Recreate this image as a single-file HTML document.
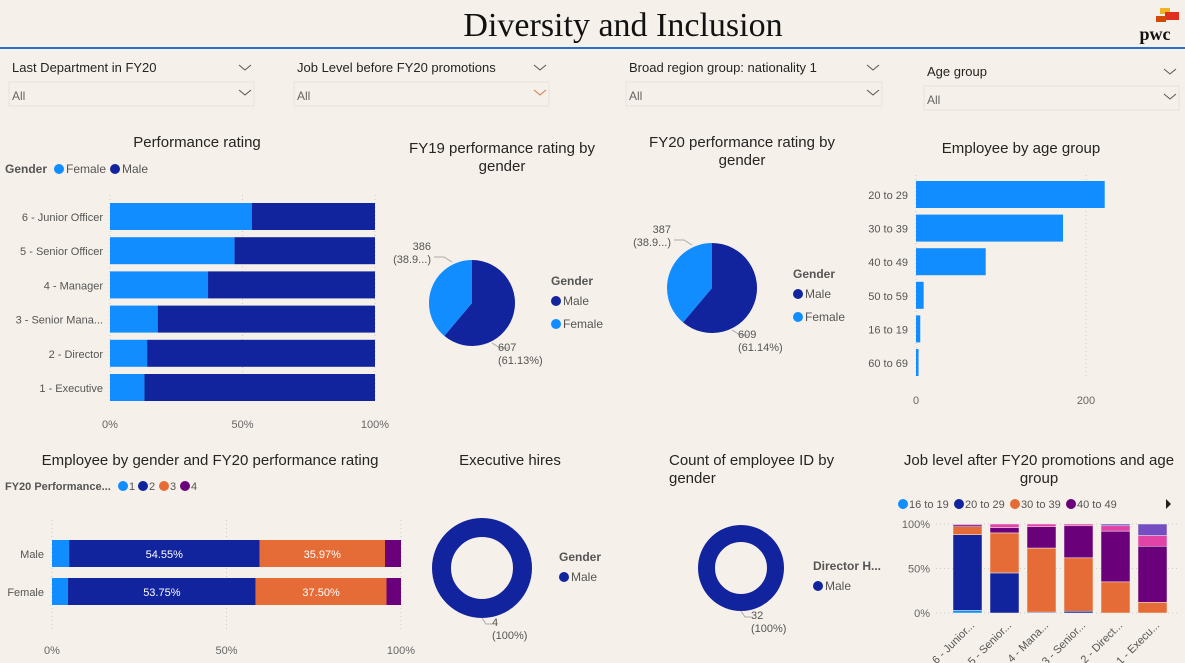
<!DOCTYPE html>
<html><head><meta charset="utf-8">
<style>
body{margin:0;width:1185px;height:663px;overflow:hidden;background:#f5f0e9;font-family:"Liberation Sans",sans-serif;}
svg{position:absolute;left:0;top:0;}
.t{font-family:"Liberation Sans",sans-serif;}
</style></head>
<body>
<svg id="s" width="1185" height="663">
<text x="623" y="36" text-anchor="middle" font-family="Liberation Serif,serif" font-size="34" fill="#111">Diversity and Inclusion</text>
<g>
<rect x="1160" y="8" width="10" height="6" fill="#f0b323"/><rect x="1165" y="12" width="14" height="8" fill="#e0301e"/><rect x="1156" y="16" width="10" height="6" fill="#d04a02"/>
<text x="1155" y="40" text-anchor="middle" font-family="Liberation Serif,serif" font-weight="bold" font-size="18" fill="#111">pwc</text></g>
<line x1="0" y1="48" x2="1185" y2="48" stroke="#2a6fc9" stroke-width="2"/>
<g id="slicers"></g>
<g id="c1"></g><g id="c2"></g><g id="c3"></g><g id="c4"></g><g id="c5"></g><g id="c6"></g><g id="c7"></g><g id="c8"></g>
</svg>
<script>
// Performance rating (female share %)
const perfCats=["6 - Junior Officer","5 - Senior Officer","4 - Manager","3 - Senior Mana...","2 - Director","1 - Executive"];
const perfFemale=[53.5,47,37,18,14,13];
// Age group
const ageCats=["20 to 29","30 to 39","40 to 49","50 to 59","16 to 19","60 to 69"];
const ageVals=[222,173,82,9,5,3];
const ageTicks=[0,200];
// FY19 / FY20 pies
const fy19Vals=[607,386]; // male, female
const fy20Vals=[609,387];
// FY20 rating by gender (stacked %)
const ratingCats=["Male","Female"];
const rating1=[4.9,4.6],rating2=[54.55,53.75],rating3=[35.97,37.50],rating4=[4.58,4.15];
// Job level by age (stacked %)
const jobCats=["6 - Junior...","5 - Senior...","4 - Mana...","3 - Senior...","2 - Direct...","1 - Execu..."];
const j16=[3,0,0,0,0,0],j20=[85,45,1,2,0,0],j30=[9,45,72,60,35,12],j40=[2,6,24,36,57,63],j50=[1,4,3,2,6,12],j60=[0,0,0,0,2,13];
const pctTicks=["0%","50%","100%"];

const NS="http://www.w3.org/2000/svg";
const LB="#118dff",DB="#12239e",OR="#e66c37",PU="#6b007b",PK="#e044a7",LV="#744ec2";
function el(p,tag,a,txt){const e=document.createElementNS(NS,tag);for(const k in a)e.setAttribute(k,a[k]);if(txt!==undefined)e.textContent=txt;p.appendChild(e);return e;}
function tx(p,x,y,s,o){o=o||{};const e=el(p,"text",Object.assign({x:x,y:y,"font-size":o.fs||12,fill:o.fill||"#555","text-anchor":o.a||"start","font-weight":o.w||"normal"}),s);return e;}
const S=document.getElementById("s");

// slicers
const sl=document.getElementById("slicers");
[[12,"Last Department in FY20",245,75],[297,"Job Level before FY20 promotions",540,75],[629,"Broad region group: nationality 1",873,75],[927,"Age group",1170,79]].forEach((d,i)=>{
 const g=el(sl,"g",{});
 
 
 tx(g,d[0],d[3]-3,d[1],{fs:13,fill:"#252423"});
 el(g,"path",{d:`M${d[2]-6} ${d[3]-10} l6 5 l6 -5`,stroke:"#555",fill:"none"});
 el(g,"rect",{x:d[0]-3,y:d[3]+7,width:d[2]-d[0]+12,height:24,fill:"none",stroke:"#e8e2da"});
 tx(g,d[0],d[3]+25,"All",{fs:12,fill:"#666"});
 el(g,"path",{d:`M${d[2]-6} ${d[3]+15} l6 5 l6 -5`,stroke:i==1?"#d07a50":"#555",fill:"none"});
});

function dot(p,x,y,c){el(p,"circle",{cx:x,cy:y,r:5,fill:c});}
// Chart 1 performance rating
(function(){const g=document.getElementById("c1");
tx(g,197,147,"Performance rating",{fs:15,fill:"#252423",a:"middle"});
tx(g,5,173,"Gender",{fs:12,w:"bold",fill:"#555"});dot(g,59,169,LB);tx(g,66,173,"Female",{fs:12});dot(g,115,169,DB);tx(g,122,173,"Male",{fs:12});
const x0=110,x1=375,xs=v=>x0+(x1-x0)*v/100;
pctTicks.forEach((t,i)=>{const x=xs(i*50);el(g,"line",{x1:x,x2:x,y1:195,y2:400,stroke:"#ccc","stroke-dasharray":"1,3"});tx(g,x,428,t,{fs:11,a:"middle",fill:"#666"});});
perfCats.forEach((c,i)=>{const y=216+i*34.2-13;tx(g,103,y+18,c,{fs:11,a:"end",fill:"#555"});
const r1=el(g,"rect",{x:xs(0),y:y,width:xs(perfFemale[i])-x0,height:27,fill:LB});
const r2=el(g,"rect",{x:xs(perfFemale[i]),y:y,width:xs(100)-xs(perfFemale[i]),height:27,fill:DB});});
})();

function pie(g,cx,cy,r,vals,l1,l2,ly){const tot=vals[0]+vals[1];let a=0;
 vals.forEach((v,i)=>{const a2=a+v/tot*2*Math.PI;const p=(t)=>[cx+r*Math.sin(t),cy-r*Math.cos(t)];const s=p(a),e=p(a2);
 const pa=el(g,"path",{d:`M${cx} ${cy} L${s[0]} ${s[1]} A${r} ${r} 0 ${a2-a>Math.PI?1:0} 1 ${e[0]} ${e[1]}Z`,fill:i?LB:DB});
 a=a2;});
 const fp=(vals[1]/tot*100).toFixed(1),mp=(vals[0]/tot*100).toFixed(2);
 el(g,"path",{d:`M${cx-20} ${cy-r+2} l-8 -5 h-10`,stroke:"#aaa",fill:"none"});
 tx(g,cx-41,cy-r-10,String(vals[1]),{fs:11,a:"end"});tx(g,cx-41,cy-r+3,"("+fp+"...)",{fs:11,a:"end"});
 el(g,"path",{d:`M${cx+20} ${cy+r-3} l8 5 h8`,stroke:"#aaa",fill:"none"});
 tx(g,cx+26,cy+r+5,String(vals[0]),{fs:11});tx(g,cx+26,cy+r+18,"("+mp+"%)",{fs:11});
 tx(g,l1,ly,"Gender",{fs:12,w:"bold",fill:"#555"});dot(g,l1+5,ly+15,DB);tx(g,l1+12,ly+19,"Male",{fs:12});dot(g,l1+5,ly+38,LB);tx(g,l1+12,ly+42,"Female",{fs:12});}
(function(){const g=document.getElementById("c2");
tx(g,502,153,"FY19 performance rating by",{fs:15,fill:"#252423",a:"middle"});tx(g,502,171,"gender",{fs:15,fill:"#252423",a:"middle"});
pie(g,472,303,43,fy19Vals,0,0,0);})();
// fix legend positions of pie1
(function(){const g=document.getElementById("c2");const ts=g.querySelectorAll("text");})();
(function(){const g=document.getElementById("c3");
tx(g,742,147,"FY20 performance rating by",{fs:15,fill:"#252423",a:"middle"});tx(g,742,165,"gender",{fs:15,fill:"#252423",a:"middle"});
pie(g,712,288,45,fy20Vals,0,0,0);})();
// move generic pie legends (placed at 0) properly
function legend(g,x,y){tx(g,x,y,"Gender",{fs:12,w:"bold",fill:"#555"});dot(g,x+5,y+16,DB);tx(g,x+12,y+20,"Male",{fs:12});dot(g,x+5,y+39,LB);tx(g,x+12,y+43,"Female",{fs:12});}
document.querySelectorAll("#c2 text, #c3 text").forEach(t=>{if(t.getAttribute("x")<15)t.remove();});
document.querySelectorAll("#c2 circle, #c3 circle").forEach(t=>t.remove());
legend(document.getElementById("c2"),551,285);legend(document.getElementById("c3"),793,278);

// Age group
(function(){const g=document.getElementById("c4");
tx(g,1021,153,"Employee by age group",{fs:15,fill:"#252423",a:"middle"});
const x0=916,xs=v=>x0+0.85*v;
ageTicks.forEach(t=>{el(g,"line",{x1:xs(t),x2:xs(t),y1:175,y2:378,stroke:"#ccc","stroke-dasharray":"1,3"});tx(g,xs(t),404,String(t),{fs:11,a:"middle",fill:"#666"});});
ageCats.forEach((c,i)=>{const y=194+i*33.6-13;tx(g,908,y+18,c,{fs:11,a:"end"});
const r=el(g,"rect",{x:x0,y:y,width:xs(ageVals[i])-x0,height:27,fill:LB});});})();

// Rating by gender
(function(){const g=document.getElementById("c5");
tx(g,210,465,"Employee by gender and FY20 performance rating",{fs:15,fill:"#252423",a:"middle"});
tx(g,5,490,"FY20 Performance...",{fs:11,w:"bold"});
[["1",LB,123],["2",DB,143],["3",OR,164],["4",PU,185]].forEach(d=>{dot(g,d[2],486,d[1]);tx(g,d[2]+6,490,d[0],{fs:11});});
const x0=52,x1=401,xs=v=>x0+(x1-x0)*v/100;
pctTicks.forEach((t,i)=>{const x=xs(i*50);el(g,"line",{x1:x,x2:x,y1:520,y2:630,stroke:"#ccc","stroke-dasharray":"1,3"});tx(g,x,654,t,{fs:11,a:"middle",fill:"#666"});});
const ser=[rating1,rating2,rating3,rating4],cols=[LB,DB,OR,PU];
ratingCats.forEach((c,i)=>{const y=540+i*38;tx(g,44,y+18,c,{fs:11,a:"end"});let acc=0;
ser.forEach((s,k)=>{const r=el(g,"rect",{x:xs(acc),y:y,width:xs(acc+s[i])-xs(acc),height:27,fill:cols[k]});
if(k==1||k==2)tx(g,(xs(acc)+xs(acc+s[i]))/2,y+18,s[i].toFixed(2)+"%",{fs:11,a:"middle",fill:"#fff"});acc+=s[i];});});})();

// Donuts
function donut(g,cx,cy,R,r,val,lx,ly,title){el(g,"circle",{cx:cx,cy:cy,r:(R+r)/2,fill:"none",stroke:DB,"stroke-width":R-r});
el(g,"path",{d:`M${cx} ${cy+R} l4 6 h6`,stroke:"#aaa",fill:"none"});tx(g,cx+10,cy+R+8,String(val),{fs:11});tx(g,cx+10,cy+R+21,"(100%)",{fs:11});
tx(g,lx,ly,title,{fs:12,w:"bold"});dot(g,lx+5,ly+16,DB);tx(g,lx+12,ly+20,"Male",{fs:12});}
(function(){const g=document.getElementById("c6");
tx(g,510,465,"Executive hires",{fs:15,fill:"#252423",a:"middle"});donut(g,482,568,50,31,4,559,561,"Gender");})();
(function(){const g=document.getElementById("c7");
tx(g,669,465,"Count of employee ID by",{fs:15,fill:"#252423"});tx(g,669,483,"gender",{fs:15,fill:"#252423"});donut(g,741,568,43,26,32,813,570,"Director H...");})();

// Job level by age
(function(){const g=document.getElementById("c8");
tx(g,1039,465,"Job level after FY20 promotions and age",{fs:15,fill:"#252423",a:"middle"});tx(g,1039,483,"group",{fs:15,fill:"#252423",a:"middle"});
[["16 to 19",LB,903],["20 to 29",DB,959],["30 to 39",OR,1015],["40 to 49",PU,1071]].forEach(d=>{dot(g,d[2],504,d[1]);tx(g,d[2]+6,508,d[0],{fs:11});});
el(g,"path",{d:"M1166 499 l5 5 l-5 5z",fill:"#222"});
const y0=613,y1=524,ys=v=>y0-(y0-y1)*v/100;
pctTicks.forEach((t,i)=>{const y=ys(i*50);el(g,"line",{x1:936,x2:1180,y1:y,y2:y,stroke:"#ccc","stroke-dasharray":"1,3"});tx(g,930,y+4,t,{fs:11,a:"end",fill:"#666"});});
const ser=[j16,j20,j30,j40,j50,j60],cols=[LB,DB,OR,PU,PK,LV];
jobCats.forEach((c,i)=>{const x=953+i*37;let acc=0;
ser.forEach((s,k)=>{if(s[i]<=0)return;const r=el(g,"rect",{x:x,y:ys(acc+s[i]),width:29,height:ys(acc)-ys(acc+s[i]),fill:cols[k],stroke:"#f5f0e9","stroke-width":0.5});acc+=s[i];});
const t=tx(g,x+22,626,c,{fs:11,a:"end"});t.setAttribute("transform",`rotate(-45 ${x+22} 626)`);});})();
</script>
</body></html>
